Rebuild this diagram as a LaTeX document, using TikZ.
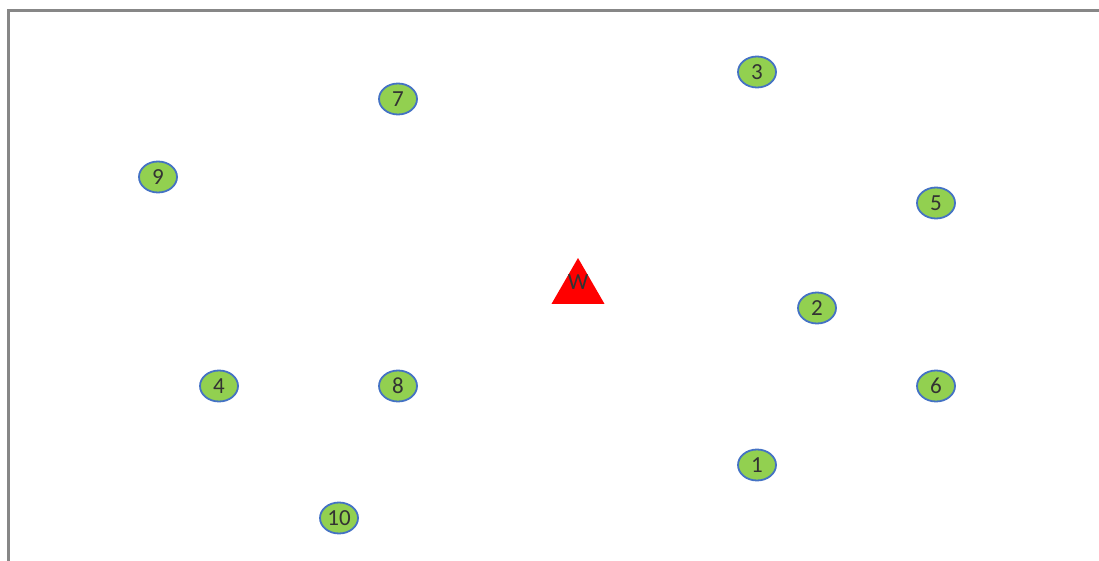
\documentclass[tikz,border=0pt]{standalone}
\usepackage{fontspec}
\setmainfont{Carlito}
\usetikzlibrary{shapes.geometric}
\definecolor{frame}{HTML}{878787}
\definecolor{leaf}{HTML}{92D050}
\definecolor{edge}{HTML}{4472C4}
\definecolor{label}{HTML}{333333}
\definecolor{depot}{HTML}{FF0000}

\begin{document}
\begin{tikzpicture}[x=1pt, y=-1pt,
      site/.style={ellipse, draw=edge, fill=leaf, line width=1.8pt,
                   minimum width=38pt, minimum height=31pt, inner sep=0pt,
                   text=label, font=\fontsize{23}{26}\selectfont},
      hub/.style={regular polygon, regular polygon sides=3, fill=depot,
                  minimum size=61pt, inner sep=0pt},
    ]
      \useasboundingbox (0,0) rectangle (1099,561);
      \draw[frame, line width=3pt] (8.5,561) -- (8.5,10.5) -- (1099,10.5);
      % warehouse
      \node[hub] (w) at (578,288.5) {};
      \node[text=label, font=\fontsize{23}{26}\selectfont] (wl) at (578,282) {W};
      % customers
      \node[site] (c1) at (757,465) {1};
      \node[site] (c2) at (817,308) {2};
      \node[site] (c3) at (757,72) {3};
      \node[site] (c4) at (219,386) {4};
      \node[site] (c5) at (936,203) {5};
      \node[site] (c6) at (936,386) {6};
      \node[site] (c7) at (398,99) {7};
      \node[site] (c8) at (398,386) {8};
      \node[site] (c9) at (158,177) {9};
      \node[site] (c10) at (339,518) {10};
    \end{tikzpicture}
\end{document}
